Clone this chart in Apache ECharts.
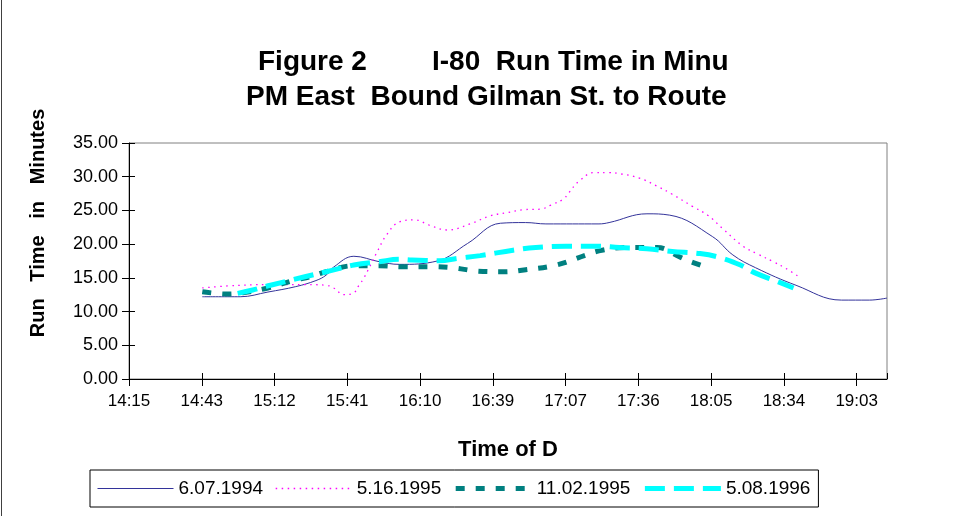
<!DOCTYPE html>
<html>
<head>
<meta charset="utf-8">
<script src="https://cdn.jsdelivr.net/npm/echarts@6/dist/echarts.min.js"></script>
<style>
  html, body { margin: 0; padding: 0; background: #fff; }
  #chart { width: 975px; height: 516px; }
</style>
</head>
<body>
<div id="chart"></div>
<script>
// tick labels on the time axis (every 28.8 minutes from 14:15)
const tickLabels = ['14:15', '14:43', '15:12', '15:41', '16:10', '16:39', '17:07', '17:36', '18:05', '18:34', '19:03']
const seriesNames = ['6.07.1994', '5.16.1995', '11.02.1995', '5.08.1996']

// run time in minutes, [time of day, minutes]
const run1994 = [
  ['14:44', 12.2], ['14:59', 12.2], ['15:10', 12.9], ['15:21', 13.7], ['15:29', 14.6], ['15:33', 15.4],
  ['15:36', 16.6], ['15:44', 18.2], ['15:54', 17.4], ['16:02', 17.0], ['16:17', 17.5], ['16:29', 20.1],
  ['16:42', 23.1], ['16:52', 23.2], ['17:00', 23.0], ['17:21', 23.0], ['17:25', 23.2], ['17:40', 24.5],
  ['17:49', 24.3], ['18:06', 21.1], ['18:14', 18.4], ['18:23', 16.5], ['18:39', 13.9], ['18:57', 11.7],
  ['19:08', 11.7], ['19:15', 12.0]
]
const run1995May = [
  ['14:44', 13.5], ['14:54', 13.8], ['15:10', 14.0], ['15:25', 14.0], ['15:33', 13.9], ['15:36', 13.5],
  ['15:40', 12.5], ['15:44', 12.8], ['15:46', 13.9], ['15:48', 15.0], ['15:53', 18.7], ['15:57', 21.4],
  ['16:02', 23.3], ['16:08', 23.6], ['16:14', 22.8], ['16:21', 22.1], ['16:30', 23.0], ['16:38', 24.2],
  ['16:45', 24.7], ['16:51', 25.1], ['16:58', 25.2], ['17:02', 25.8], ['17:07', 26.7], ['17:09', 27.6],
  ['17:13', 29.3], ['17:19', 30.6], ['17:25', 30.6], ['17:30', 30.4], ['17:37', 29.8], ['17:44', 28.6],
  ['17:50', 27.4], ['17:58', 25.6], ['18:04', 24.3], ['18:10', 22.3], ['18:18', 19.7], ['18:24', 18.5],
  ['18:30', 17.4], ['18:35', 16.4], ['18:40', 15.2]
]
const run1995Nov = [
  ['14:44', 12.95], ['14:54', 12.6], ['15:00', 12.8], ['15:10', 13.5], ['15:20', 14.6], ['15:27', 15.2],
  ['15:33', 15.9], ['15:44', 16.8], ['15:54', 16.8], ['16:03', 16.65], ['16:14', 16.65], ['16:23', 16.5],
  ['16:33', 16.0], ['16:43', 15.9], ['16:52', 16.2], ['17:04', 16.9], ['17:16', 18.4], ['17:21', 19.0],
  ['17:31', 19.5], ['17:44', 19.5], ['17:53', 18.1], ['17:56', 17.6], ['18:04', 16.5]
]
const run1996 = [
  ['14:58', 12.7], ['15:04', 13.2], ['15:11', 13.9], ['15:25', 15.2], ['15:33', 15.9], ['15:44', 16.9],
  ['15:54', 17.4], ['16:02', 17.75], ['16:07', 17.65], ['16:18', 17.55], ['16:25', 17.9], ['16:34', 18.3],
  ['16:47', 19.1], ['16:56', 19.5], ['17:08', 19.7], ['17:20', 19.7], ['17:29', 19.5], ['17:40', 19.3],
  ['17:50', 18.9], ['18:01', 18.6], ['18:09', 18.0], ['18:17', 16.9], ['18:23', 15.7], ['18:32', 14.4],
  ['18:38', 13.5]
]

const START = 14 * 60 + 15
const STEP = 28.8

// minutes after 14:15
const toAxis = list => list.map(([t, v]) => {
  const [h, m] = t.split(':').map(Number)
  return [h * 60 + m - START, v]
})

const chart = echarts.init(document.getElementById('chart'))
const font = 'Arial, "Liberation Sans", sans-serif'

const xBase = {
  type: 'value',
  min: 0,
  max: 300,
  interval: STEP,
  splitLine: { show: false }
}
const yBase = {
  type: 'value',
  min: 0,
  max: 35,
  interval: 5,
  splitLine: { show: false }
}

// line styles, shared by the series and the legend icons
const styles = [
  { color: '#33339a', width: 1 },
  { color: '#ff00ff', width: 1.3, type: [1.5, 4.5] },
  { color: '#008080', width: 5, type: [9, 11], cap: 'butt' },
  { color: '#00ffff', width: 5, type: [20, 9], cap: 'butt' }
]
const seriesData = [run1994, run1995May, run1995Nov, run1996]

const option = {
  backgroundColor: '#fff',
  animation: false,
  textStyle: { fontFamily: font },
  grid: {
    left: 129, top: 143, right: 88, bottom: 137,
    show: true, borderColor: '#808080', borderWidth: 1
  },
  graphic: [
    { type: 'line', shape: { x1: 1.5, y1: 0, x2: 1.5, y2: 516 }, style: { stroke: '#404040', lineWidth: 1 } },
    { type: 'text', x: 258, y: 62, style: { text: 'Figure 2', font: 'bold 28px ' + font, fill: '#000', verticalAlign: 'middle' } },
    { type: 'text', x: 432, y: 62, style: { text: 'I-80  Run Time in Minu', font: 'bold 28px ' + font, fill: '#000', verticalAlign: 'middle' } },
    { type: 'text', x: 246, y: 97, style: { text: 'PM East  Bound Gilman St. to Route', font: 'bold 28px ' + font, fill: '#000', verticalAlign: 'middle' } },
    {
      type: 'text', x: 38, y: 223, rotation: Math.PI / 2,
      style: { text: 'Run   Time   in   Minutes', font: 'bold 20px ' + font, fill: '#000', align: 'center', verticalAlign: 'middle' }
    }
  ],
  legend: {
    left: 90, top: 470,
    data: seriesNames.map((name, i) => ({ name, lineStyle: { width: styles[i].width } })),
    orient: 'horizontal',
    itemWidth: 76, itemHeight: 12, itemGap: 12,
    padding: [9, 8, 9, 7],
    borderColor: '#000', borderWidth: 1, borderRadius: 0,
    itemStyle: { opacity: 0 },
    textStyle: { fontSize: 19, color: '#000', fontFamily: font }
  },
  xAxis: [
    Object.assign({}, xBase, {
      position: 'bottom',
      axisLine: { lineStyle: { color: '#000', width: 1 } },
      axisTick: { length: 7, lineStyle: { color: '#000' } },
      axisLabel: {
        color: '#000', fontSize: 17, margin: 14, showMaxLabel: false,
        formatter: v => tickLabels[Math.round(v / STEP)] || ''
      },
      name: 'Time of D',
      nameLocation: 'middle',
      nameGap: 60,
      nameTextStyle: { fontSize: 22, fontWeight: 'bold', color: '#000' }
    }),
    Object.assign({}, xBase, {
      position: 'bottom',
      axisLine: { show: false },
      axisTick: { inside: true, length: 6, lineStyle: { color: '#000' } },
      axisLabel: { show: false }
    })
  ],
  yAxis: [
    Object.assign({}, yBase, {
      position: 'left',
      axisLine: { lineStyle: { color: '#000', width: 1 } },
      axisTick: { length: 7, lineStyle: { color: '#000' } },
      axisLabel: { color: '#000', fontSize: 18, margin: 11, formatter: v => v.toFixed(2) }
    }),
    Object.assign({}, yBase, {
      position: 'left',
      axisLine: { show: false },
      axisTick: { inside: true, length: 6, lineStyle: { color: '#000' } },
      axisLabel: { show: false }
    })
  ],
  series: seriesNames.map((name, i) => ({
    name,
    type: 'line',
    data: toAxis(seriesData[i]),
    smooth: 0.4,
    symbol: 'none',
    color: styles[i].color,
    lineStyle: styles[i]
  }))
}

chart.setOption(option)
</script>
</body>
</html>
